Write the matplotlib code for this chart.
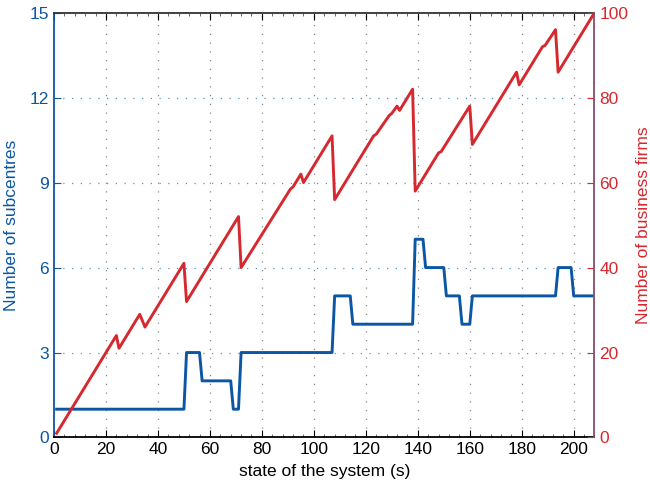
import matplotlib
matplotlib.use("Agg")
import matplotlib.pyplot as plt
from matplotlib.ticker import MultipleLocator

plt.rcParams['font.family'] = ['Liberation Sans', 'DejaVu Sans']

# Number of subcentres (step-like series, vertices)
sub_x = [1, 50, 51, 56, 57, 68, 69, 71, 72, 107, 108, 114, 115, 138, 139, 142,
         143, 150, 151, 156, 157, 160, 161, 193, 194, 199, 200, 208]
sub_y = [1, 1, 3, 3, 2, 2, 1, 1, 3, 3, 5, 5, 4, 4, 7, 7,
         6, 6, 5, 5, 4, 4, 5, 5, 6, 6, 5, 5]

# Number of business firms (vertices)
firm_x = [1, 24, 25, 33, 35, 50, 51, 71, 72, 91, 92, 95, 96, 107, 108, 123, 124,
          129, 130, 132, 133, 138, 139, 148, 149, 160, 161, 178, 179, 188, 189,
          193, 194, 208]
firm_y = [1, 24, 21, 29, 26, 41, 32, 52, 40, 58.5, 59, 62, 60, 71, 56, 71, 71.4,
          75.8, 76.3, 78, 77, 82, 58, 67, 67.3, 78, 69, 86, 83, 92, 92.3,
          96, 86, 100]

x_ticks = list(range(0, 201, 20))
left_ticks = [0, 3, 6, 9, 12, 15]
right_ticks = [0, 20, 40, 60, 80, 100]

BLUE = '#0b57a4'
RED = '#d6282f'
PURPLE = '#8a4b6c'

fig = plt.figure(figsize=(6.5, 4.86), dpi=100)
ax = fig.add_axes([0.0831, 0.0998, 0.8315, 0.8741])
ax2 = ax.twinx()

ax.plot(sub_x, sub_y, color=BLUE, lw=2.1, zorder=3)
ax2.plot(firm_x, firm_y, color=RED, lw=2.1, zorder=3)

ax.set_xlim(0, 208)
ax.set_ylim(0, 15)
ax2.set_ylim(0, 100)
ax.set_xticks(x_ticks)
ax.set_yticks(left_ticks)
ax2.set_yticks(right_ticks)
ax.xaxis.set_minor_locator(MultipleLocator(4))

# grids
for xv in x_ticks[1:]:
    ax.axvline(xv, color='#8a8a8a', lw=0.9, ls=(0, (1, 6)), zorder=1)
for yv in left_ticks[1:-1]:
    ax.axhline(yv, color='#5b92cf', lw=0.9, ls=(0, (1, 6)), zorder=1)

fs = 12.5
ax.tick_params(axis='x', which='major', direction='in', length=5, top=True,
               labelsize=fs, colors='black', width=0.8)
ax.tick_params(axis='x', which='minor', direction='in', length=2, top=True,
               color='#555555', width=0.6)
ax.tick_params(axis='y', direction='in', length=5, labelsize=fs, colors=BLUE)
ax2.tick_params(axis='y', direction='in', length=5, labelsize=fs, colors=RED)

ax.spines['left'].set_color(BLUE)
ax.spines['left'].set_linewidth(1.3)
ax.spines['bottom'].set_color('black')
ax.spines['bottom'].set_linewidth(1.3)
ax.spines['top'].set_color('#333333')
ax.spines['top'].set_linewidth(1.3)
ax2.spines['right'].set_color(PURPLE)
ax2.spines['right'].set_linewidth(1.3)
ax2.spines['left'].set_visible(False)
ax2.spines['top'].set_visible(False)
ax2.spines['bottom'].set_visible(False)
ax.spines['right'].set_visible(False)

ax.set_xlabel('state of the system (s)', fontsize=fs)
ax.xaxis.set_label_coords(0.5, -0.062)
ax.set_ylabel('Number of subcentres', fontsize=fs, color=BLUE)
ax.yaxis.set_label_coords(-0.064, 0.5)
ax2.set_ylabel('Number of business firms', fontsize=fs, color=RED)
ax2.yaxis.set_label_coords(1.076, 0.5)

fig.savefig('out.png', dpi=100)
